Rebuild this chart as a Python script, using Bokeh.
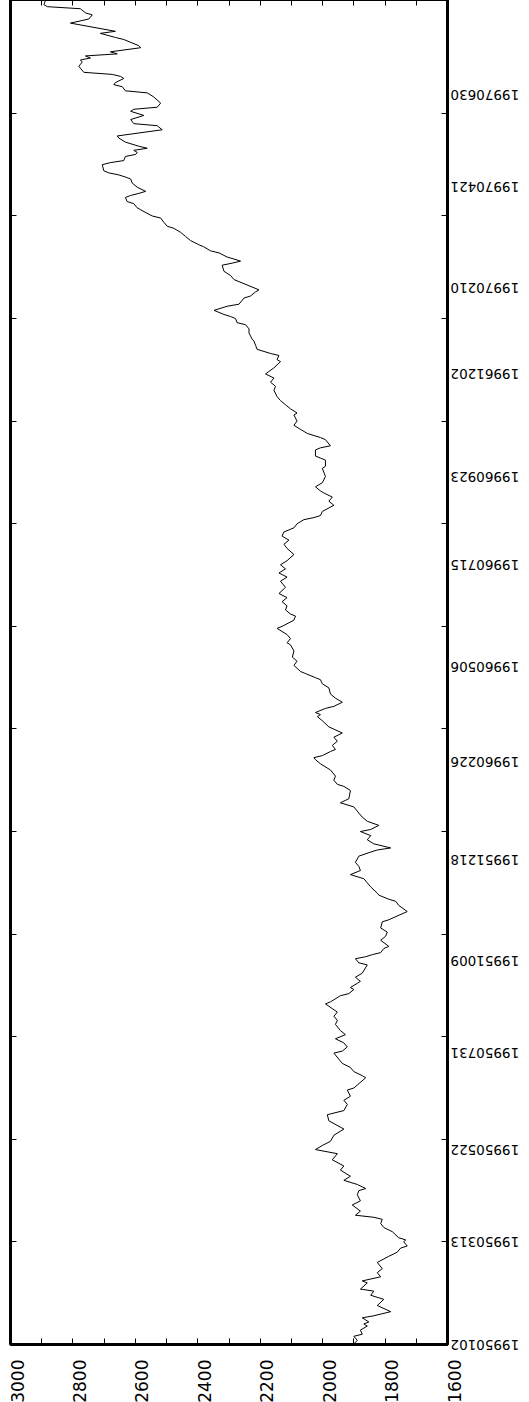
import math
from bokeh.plotting import figure
from bokeh.models import Range1d, FixedTicker, LinearAxis
from bokeh.layouts import row, column
from bokeh.core.properties import value as val
from bokeh.embed import file_html
from bokeh.resources import INLINE

# trading-day index (0 = 19950102) and index level
day = [0, 2, 4, 5, 7, 9, 10, 11, 13, 14, 16, 19, 22, 24, 26, 27, 30, 31, 33, 35, 37, 40, 43, 45, 47, 48, 50, 51, 52, 55, 57, 59, 61, 62, 63, 65, 68, 70, 73, 75,
       76, 78, 80, 82, 85, 87, 90, 93, 95, 97, 99, 102, 105, 109, 112, 114, 117, 119, 121, 124, 125, 130, 131, 133, 135, 137, 142, 143, 145, 147, 149, 151, 153, 156, 158,
       160, 162, 166, 167, 168, 170, 171, 173, 174, 176, 177, 179, 181, 185, 186, 188, 189, 190, 191, 193, 194, 197, 199, 201, 203, 206, 207, 211, 214, 216, 217, 219, 220, 223, 225, 227, 229, 231, 233, 235, 238, 240, 241,
       242, 244, 246, 248, 250, 251, 253, 255, 257, 259, 262, 264, 266, 270, 272, 273, 275, 277, 280, 283, 285, 286, 287, 289, 290, 292, 294, 296, 298, 301, 304, 306, 307, 308, 310, 311, 313, 315, 317, 320, 322, 324,
       325, 327, 328, 331, 333, 335, 338, 341, 342, 344, 346, 349, 350, 353, 355, 356, 358, 360, 362, 364, 366, 369, 372, 374, 376, 378, 380, 382, 385, 388, 390, 392, 394, 396, 398, 400, 402, 403, 404, 406,
       409, 411, 413, 415, 416, 418, 420, 423, 427, 428, 431, 432, 433, 436, 437, 438, 441, 442, 444, 446, 448, 450, 453, 454, 456, 458, 460, 462, 465, 467, 469, 471, 473, 476, 479, 480, 482, 483, 485, 487, 489,
       490, 493, 495, 497, 498, 500, 501, 502, 504, 506, 507, 510, 511, 513, 514, 516, 518, 519, 521, 523, 526, 527, 528, 529, 530, 532, 533, 535, 536, 538, 540, 542, 544, 545, 547, 549, 550, 553, 554, 556, 557, 559, 560, 561, 562, 564, 566, 568, 569, 570, 571, 572,
       575, 576, 577, 579, 580, 581, 582, 583, 584, 586, 588, 589, 592, 594, 595, 597, 599, 601, 602, 603, 605, 608, 610, 611, 613, 614, 615, 617, 618, 619, 620, 622, 623, 625, 626, 627, 628, 629, 630, 632, 633, 636, 637, 639, 640, 644, 646, 648, 649, 651, 652, 653, 655]

value = [1902, 1889, 1900, 1873, 1879, 1857, 1868, 1852, 1873, 1836, 1782, 1825, 1804, 1846, 1836, 1879, 1857, 1873, 1814, 1825, 1809, 1825, 1788, 1761, 1750, 1729, 1740, 1734, 1756, 1777, 1804, 1814, 1809, 1836, 1895, 1879, 1905, 1879, 1889, 1884,
         1862, 1889, 1932, 1911, 1943, 1932, 1969, 1953, 2023, 2001, 1975, 1964, 1932, 1980, 1985, 1932, 1921, 1932, 1911, 1921, 1900, 1862, 1873, 1900, 1911, 1937, 1964, 1937, 1921, 1932, 1959, 1927, 1943, 1959, 1953,
         1964, 1953, 1991, 1975, 1964, 1943, 1916, 1900, 1911, 1889, 1879, 1895, 1873, 1857, 1884, 1895, 1862, 1841, 1814, 1804, 1788, 1814, 1798, 1793, 1814, 1809, 1788, 1729, 1756, 1766, 1788, 1820, 1825, 1846, 1857, 1868, 1911, 1879, 1884, 1895, 1884, 1846, 1825,
         1782, 1836, 1857, 1846, 1879, 1846, 1820, 1857, 1873, 1884, 1900, 1943, 1916, 1911, 1932, 1953, 1964, 1959, 1975, 2007, 2023, 2028, 2001, 1975, 1959, 1969, 1953, 1964, 1937, 1980, 2001, 2017, 2007, 2023, 1991, 1964, 1937, 1959, 1975, 1980, 2001, 2007,
         2023, 2055, 2071, 2092, 2082, 2097, 2092, 2103, 2114, 2103, 2114, 2146, 2130, 2092, 2087, 2103, 2119, 2114, 2130, 2114, 2140, 2119, 2135, 2114, 2140, 2119, 2135, 2114, 2092, 2114, 2124, 2108, 2130, 2124, 2092, 2082, 2060, 2028, 2007, 2001,
         1964, 1980, 1969, 1996, 2007, 2023, 2001, 1991, 2001, 1991, 1991, 2007, 2023, 2023, 2007, 1975, 1991, 2007, 2049, 2071, 2092, 2082, 2092, 2082, 2103, 2119, 2135, 2146, 2156, 2151, 2167, 2156, 2183, 2156, 2135, 2146, 2140, 2167, 2210, 2215, 2220,
         2226, 2236, 2236, 2247, 2274, 2279, 2295, 2316, 2348, 2306, 2268, 2252, 2231, 2215, 2204, 2236, 2268, 2284, 2295, 2316, 2322, 2290, 2263, 2284, 2306, 2332, 2359, 2381, 2397, 2423, 2439, 2455, 2477, 2498, 2509, 2519, 2546, 2583, 2594, 2605, 2626, 2632, 2615, 2589, 2567, 2594, 2610, 2615, 2632, 2653, 2685, 2701,
         2706, 2680, 2637, 2632, 2599, 2594, 2605, 2562, 2589, 2632, 2653, 2658, 2514, 2530, 2605, 2615, 2573, 2615, 2605, 2530, 2519, 2541, 2562, 2632, 2642, 2669, 2664, 2637, 2647, 2674, 2765, 2776, 2781, 2770, 2776, 2744, 2760, 2658, 2680, 2583, 2589, 2637, 2664, 2712, 2664, 2808, 2749, 2738, 2760, 2776, 2882, 2893, 2888]

tick_days = [0, 50, 100, 150, 200, 250, 300, 350, 400, 450, 500, 550, 600]
label_days = [0, 50, 95, 142, 187, 236, 284, 330, 380, 423, 473, 515, 564, 609]
label_dates = ["19950102", "19950313", "19950522", "19950731", "19951009", "19951218", "19960226",
               "19960506", "19960715", "19960923", "19961202", "19970210", "19970421", "19970630"]
value_labels = [1600, 1800, 2000, 2200, 2400, 2600, 2800, 3000]
value_minor = [1700, 1900, 2100, 2300, 2500, 2700, 2900]

# geometry of the plotting frame
FW, FH = 437, 1345
X0, X1 = 3000, 1600
Y0, Y1 = 0, 655.5
PAD_R = 14                    # room below the frame for the first date label
PAD_B = 30                    # room right of the frame for the last value label
xs = (X0 - X1) / FW           # value units per pixel
ys = (Y1 - Y0) / FH           # day units per pixel
FONT = "DejaVu Sans"

p = figure(frame_width=FW, frame_height=FH,
           x_range=Range1d(X0, X1), y_range=Range1d(Y0, Y1),
           output_backend="svg", toolbar_location=None,
           x_axis_location=None, y_axis_location=None,
           min_border_left=2, min_border_top=0, min_border_right=2, min_border_bottom=2,
           background_fill_color="white", border_fill_color="white",
           outline_line_color="black", outline_line_width=3)
p.grid.visible = False


def tick_axis(ticks, minor, orient):
    return LinearAxis(ticker=FixedTicker(ticks=ticks, minor_ticks=minor),
                      major_tick_in=6, major_tick_out=0, minor_tick_in=6, minor_tick_out=0,
                      major_tick_line_color="black", minor_tick_line_color="black",
                      axis_line_color=None, major_label_standoff=0,
                      major_label_orientation=orient,
                      major_label_overrides={t: "" for t in ticks})


p.add_layout(tick_axis(value_labels, value_minor, "vertical"), "below")
p.add_layout(tick_axis(value_labels, value_minor, "vertical"), "above")
p.add_layout(tick_axis(tick_days, [], "horizontal"), "left")
p.add_layout(tick_axis(tick_days, [], "horizontal"), "right")

p.line(value, day, line_color="black", line_width=1)

# strip right of the frame: upside-down date labels, same day scale
pr = figure(frame_width=76, frame_height=FH + PAD_R,
            x_range=Range1d(0, 76), y_range=Range1d(Y0 - PAD_R * ys, Y1),
            output_backend="svg", toolbar_location=None,
            x_axis_location=None, y_axis_location=None,
            min_border_left=0, min_border_top=0, min_border_right=0, min_border_bottom=0,
            background_fill_color="white", border_fill_color="white",
            outline_line_color=None)
pr.grid.visible = False
pr.text(x=1, y=label_days, text=label_dates, angle=math.pi,
        text_align="right", text_baseline="middle",
        text_font=val(FONT), text_font_size="13.5px", text_color="black")

# strip below the frame: value labels reading bottom-to-top, same value scale
pb = figure(frame_width=FW + PAD_B, frame_height=50,
            x_range=Range1d(X0, X1 - PAD_B * xs), y_range=Range1d(-50, 0),
            output_backend="svg", toolbar_location=None,
            x_axis_location=None, y_axis_location=None,
            min_border_left=2, min_border_top=0, min_border_right=0, min_border_bottom=0,
            background_fill_color="white", border_fill_color="white",
            outline_line_color=None)
pb.grid.visible = False
pb.text(x=value_labels, y=-1, text=[str(v) for v in value_labels], angle=math.pi / 2,
        text_align="right", text_baseline="top",
        text_font=val(FONT), text_font_size="17px", text_color="black")

layout = column(row(p, pr), pb)
layout.margin = (-1, 0, 0, 8)

open("out.html", "w").write(file_html(layout, INLINE))
